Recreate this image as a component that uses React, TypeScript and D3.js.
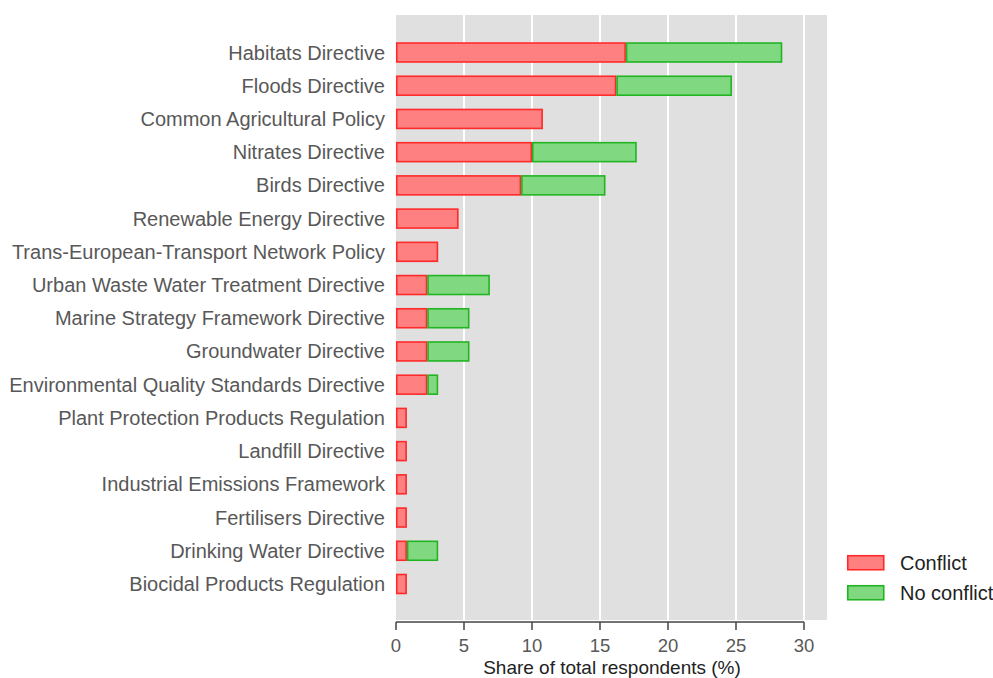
import React, { useEffect, useRef } from 'react';
import * as d3 from 'd3';

const categories = [
  'Habitats Directive',
  'Floods Directive',
  'Common Agricultural Policy',
  'Nitrates Directive',
  'Birds Directive',
  'Renewable Energy Directive',
  'Trans-European-Transport Network Policy',
  'Urban Waste Water Treatment Directive',
  'Marine Strategy Framework Directive',
  'Groundwater Directive',
  'Environmental Quality Standards Directive',
  'Plant Protection Products Regulation',
  'Landfill Directive',
  'Industrial Emissions Framework',
  'Fertilisers Directive',
  'Drinking Water Directive',
  'Biocidal Products Regulation',
];

const conflict = [16.9, 16.2, 10.8, 10.0, 9.2, 4.6, 3.1, 2.3, 2.3, 2.3, 2.3, 0.8, 0.8, 0.8, 0.8, 0.8, 0.8];
const noConflict = [11.5, 8.5, 0, 7.7, 6.2, 0, 0, 4.6, 3.1, 3.1, 0.8, 0, 0, 0, 0, 2.3, 0];

const xTicks = [0, 5, 10, 15, 20, 25, 30];
const seriesNames = ['Conflict', 'No conflict'];

const App: React.FC = () => {
  const svgRef = useRef<SVGSVGElement>(null);

  useEffect(() => {
    if (!svgRef.current) return;
    const svg = d3.select(svgRef.current);
    svg.selectAll('*').remove();

    const font = 'Liberation Sans, Arial, sans-serif';
    const colors = {
      fill: ['#ff8080', '#80d880'],
      stroke: ['#ff2a2a', '#22b422'],
    };

    const x = d3.scaleLinear().domain([0, 30]).range([396, 804]);
    const y = d3.scaleBand<string>()
      .domain(categories)
      .range([35.9, 600.6])
      .paddingInner(0.43)
      .paddingOuter(0.215);

    // panel background
    svg.append('rect')
      .attr('x', x(0))
      .attr('y', 15)
      .attr('width', 827 - x(0))
      .attr('height', 620 - 15)
      .attr('fill', '#e0e0e0');

    // grid lines
    svg.selectAll('.grid')
      .data(xTicks.slice(1))
      .enter()
      .append('line')
      .attr('x1', d => x(d))
      .attr('x2', d => x(d))
      .attr('y1', 15)
      .attr('y2', 620)
      .attr('stroke', '#ffffff')
      .attr('stroke-width', 2);

    const rows = categories.map((c, i) => ({ c, a: conflict[i], b: noConflict[i] }));

    // conflict bars
    svg.selectAll('.bar-conflict')
      .data(rows)
      .enter()
      .append('rect')
      .attr('x', x(0) + 0.75)
      .attr('y', d => y(d.c)!)
      .attr('width', d => x(d.a) - x(0) - 1.5)
      .attr('height', y.bandwidth())
      .attr('fill', colors.fill[0])
      .attr('stroke', colors.stroke[0])
      .attr('stroke-width', 1.6);

    // no conflict bars
    svg.selectAll('.bar-noconflict')
      .data(rows.filter(d => d.b > 0))
      .enter()
      .append('rect')
      .attr('x', d => x(d.a) + 0.75)
      .attr('y', d => y(d.c)!)
      .attr('width', d => x(d.a + d.b) - x(d.a) - 1.5)
      .attr('height', y.bandwidth())
      .attr('fill', colors.fill[1])
      .attr('stroke', colors.stroke[1])
      .attr('stroke-width', 1.6);

    // category labels
    svg.selectAll('.label')
      .data(categories)
      .enter()
      .append('text')
      .attr('x', 385)
      .attr('y', d => y(d)! + y.bandwidth() / 2)
      .attr('dy', '0.35em')
      .attr('text-anchor', 'end')
      .style('font-family', font)
      .style('font-size', '20px')
      .style('fill', '#585858')
      .text(d => d);

    // x axis
    const axis = svg.append('g');
    axis.append('line')
      .attr('x1', x(0))
      .attr('x2', x(30))
      .attr('y1', 622)
      .attr('y2', 622)
      .attr('stroke', '#444')
      .attr('stroke-width', 1.5);
    axis.selectAll('.tick')
      .data(xTicks)
      .enter()
      .append('line')
      .attr('x1', d => x(d))
      .attr('x2', d => x(d))
      .attr('y1', 622)
      .attr('y2', 630)
      .attr('stroke', '#444')
      .attr('stroke-width', 1.5);
    axis.selectAll('.tick-label')
      .data(xTicks)
      .enter()
      .append('text')
      .attr('x', d => x(d))
      .attr('y', 651.5)
      .attr('text-anchor', 'middle')
      .style('font-family', font)
      .style('font-size', '18.5px')
      .style('fill', '#585858')
      .text(d => d);

    svg.append('text')
      .attr('x', 612)
      .attr('y', 673.5)
      .attr('text-anchor', 'middle')
      .style('font-family', font)
      .style('font-size', '19px')
      .style('fill', '#222')
      .text('Share of total respondents (%)');

    // legend
    const legend = svg.append('g').attr('transform', 'translate(847, 555)');
    seriesNames.forEach((name, i) => {
      legend.append('rect')
        .attr('x', 0.75)
        .attr('y', i * 30 + 0.75)
        .attr('width', 36)
        .attr('height', 14)
        .attr('fill', colors.fill[i])
        .attr('stroke', colors.stroke[i])
        .attr('stroke-width', 1.6);
      legend.append('text')
        .attr('x', 53)
        .attr('y', i * 30 + 8)
        .attr('dy', '0.35em')
        .style('font-family', font)
        .style('font-size', '20px')
        .style('fill', '#222')
        .text(name);
    });
  }, []);

  return (
    <div style={{ position: 'absolute', left: 0, top: 0 }}>
      <svg ref={svgRef} width={993} height={678} style={{ display: 'block', background: '#fff' }} />
    </div>
  );
};

export default App;
